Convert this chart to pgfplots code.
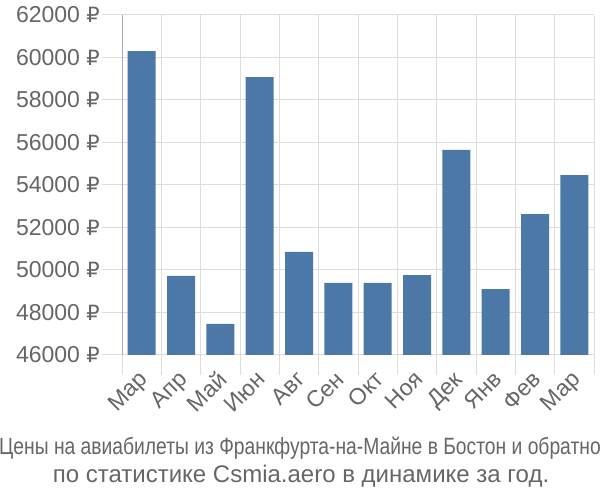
\documentclass[border=0pt]{standalone}
\usepackage{pgfplots}
\pgfplotsset{compat=1.18}
\usepackage{fontspec}
\setmainfont{Liberation Sans}
\newfontfamily\narrowfont[FakeStretch=0.82]{Liberation Sans}
\newfontfamily\rub{DejaVu Sans}
\newcommand{\R}{{\rub\fontsize{21}{24}\selectfont ₽}}
\definecolor{barblue}{HTML}{4C78A8}
\definecolor{gridgray}{HTML}{DDDDDD}
\definecolor{axisgray}{HTML}{AAAAAA}
\definecolor{txtgray}{HTML}{666666}
\begin{document}
\begin{tikzpicture}[x=1pt,y=1pt]
\path[use as bounding box] (0,0) rectangle (600,500);
\begin{axis}[
  at={(122pt,145pt)}, anchor=south west,
  scale only axis, width=472pt, height=340pt,
  xmin=-0.5, xmax=11.5, ymin=46000, ymax=62000,
  scaled x ticks=false, scaled y ticks=false,
  axis lines*=left,
  separate axis lines,
  x axis line style={draw=gridgray, line width=1pt},
  y axis line style={draw=axisgray, line width=1pt},
  xtick={-0.5,0.5,1.5,2.5,3.5,4.5,5.5,6.5,7.5,8.5,9.5,10.5,11.5},
  xticklabels={},
  ytick={46000,48000,50000,52000,54000,56000,58000,60000,62000},
  yticklabels={46000 \R,48000 \R,50000 \R,52000 \R,54000 \R,56000 \R,58000 \R,60000 \R,62000 \R},
  grid=major,
  major grid style={draw=gridgray, line width=1pt},
  tick align=outside,
  major tick length=20pt,
  tick style={draw=gridgray, line width=1pt},
  every tick label/.append style={font=\fontsize{23}{26}\selectfont, text=txtgray},
  yticklabel style={inner sep=2pt},
  extra x ticks={0,1,2,3,4,5,6,7,8,9,10,11},
  extra x tick labels={Мар,Апр,Май,Июн,Авг,Сен,Окт,Ноя,Дек,Янв,Фев,Мар},
  extra x tick style={grid=none, tick style={draw=none}, major tick length=0pt,
    tick label style={xshift=-4pt, yshift=-13pt, rotate=45, anchor=north east, inner sep=1pt}},
  clip=false,
]
\addplot[ybar, bar width=28pt, fill=barblue, draw=none] coordinates {
(0,60300) (1,49720) (2,47460) (3,59080) (4,50850) (5,49390)
(6,49390) (7,49760) (8,55650) (9,49100) (10,52630) (11,54470)};
\end{axis}
\node[anchor=base, text=txtgray, font=\narrowfont\fontsize{23.5}{26}\selectfont, inner sep=0pt] at (300,45) {Цены на авиабилеты из Франкфурта-на-Майне в Бостон и обратно};
\node[anchor=base, text=txtgray, font=\fontsize{24}{26}\selectfont, inner sep=0pt] at (301,17) {по статистике Csmia.aero в динамике за год.};
\end{tikzpicture}
\end{document}
